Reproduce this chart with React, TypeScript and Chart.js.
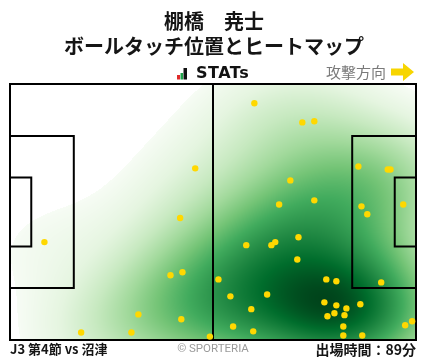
import React, { useEffect, useRef } from 'react';
import { Chart, registerables } from 'chart.js';

Chart.register(...registerables);

// ---- Text ----
const playerName = '棚橋　尭士';
const chartTitle = 'ボールタッチ位置とヒートマップ';
const brandLabel = 'STATs';
const directionLabel = '攻撃方向';
const matchLabel = 'J3 第4節 vs 沼津';
const creditLabel = '© SPORTERIA';
const minutesLabel = '出場時間：89分';

// ---- Ball touch positions (metres; x: 0 = own goal line, y: 0 = top touchline) ----
const touchX = [
  63.2, 75.6, 78.7, 72.5, 69.6, 78.7, 90.1, 97.7, 98.4, 101.7, 90.9, 92.4,
  47.9, 44.0, 8.9, 41.5, 44.6, 33.2, 44.3, 18.4, 31.4, 51.7,
  61.1, 67.6, 68.6, 74.6, 74.3, 53.9, 81.8, 84.4, 96.0, 57.0, 66.5, 62.4,
  81.3, 84.4, 87.0, 90.6, 83.9, 82.1, 86.5, 57.7, 62.9, 86.2, 86.2, 91.1,
  102.2, 104.0,
];
const touchY = [
  5.1, 10.2, 9.9, 25.6, 32.0, 30.9, 21.9, 22.7, 22.7, 32.0, 32.5, 34.6,
  22.4, 35.6, 42.0, 50.8, 50.0, 61.2, 62.5, 66.0, 66.0, 67.1,
  42.8, 42.8, 42.0, 40.7, 46.6, 51.9, 51.9, 52.4, 52.7, 56.4, 55.9, 59.8,
  58.0, 58.8, 59.6, 58.5, 60.9, 61.7, 61.4, 64.4, 65.7, 64.4, 66.8, 66.8,
  64.1, 63.0,
];

// ---- Pitch geometry (metres) ----
const PITCH_LENGTH = 105;
const PITCH_WIDTH = 68;
const BOX_DEPTH = 16.5;
const BOX_WIDTH = 40.32;
const SIX_DEPTH = 5.5;
const SIX_WIDTH = 18.32;

const GREENS: number[][] = [
  [247, 252, 245], [229, 245, 224], [199, 233, 192], [161, 217, 155],
  [116, 196, 118], [65, 171, 93], [35, 139, 69], [0, 109, 44], [0, 68, 27],
];

function greens(t: number): number[] {
  const v = Math.max(0, Math.min(1, t)) * (GREENS.length - 1);
  const i = Math.min(GREENS.length - 2, Math.floor(v));
  const f = v - i;
  const a = GREENS[i];
  const b = GREENS[i + 1];
  return [a[0] + (b[0] - a[0]) * f, a[1] + (b[1] - a[1]) * f, a[2] + (b[2] - a[2]) * f];
}

function makeKde(xs: number[], ys: number[], adjust: number) {
  const n = xs.length;
  const mx = xs.reduce((s, v) => s + v, 0) / n;
  const my = ys.reduce((s, v) => s + v, 0) / n;
  let sxx = 0, syy = 0, sxy = 0;
  for (let i = 0; i < n; i++) {
    const dx = xs[i] - mx;
    const dy = ys[i] - my;
    sxx += dx * dx; syy += dy * dy; sxy += dx * dy;
  }
  sxx /= n - 1; syy /= n - 1; sxy /= n - 1;
  const f = Math.pow(n, -1 / 6) * adjust;
  const a = sxx * f * f, b = sxy * f * f, c = syy * f * f;
  const det = a * c - b * b;
  const i00 = c / det, i01 = -b / det, i11 = a / det;
  const fn = (x: number, y: number) => {
    let s = 0;
    for (let k = 0; k < n; k++) {
      const dx = x - xs[k];
      const dy = y - ys[k];
      s += Math.exp(-0.5 * (dx * dx * i00 + 2 * dx * dy * i01 + dy * dy * i11));
    }
    return s;
  };
  return { fn, bwx: Math.sqrt(a), bwy: Math.sqrt(c) };
}

const heatmapPlugin = {
  id: 'heatmap',
  beforeDatasetsDraw(chart: any) {
    const { ctx, chartArea, scales } = chart;
    const w = Math.round(chartArea.right - chartArea.left);
    const h = Math.round(chartArea.bottom - chartArea.top);
    const { fn: kde, bwx, bwy } = makeKde(touchX, touchY, 1.25);

    // lowest level: iso-proportion threshold on an extended support grid (cut = 3 bandwidths)
    const x0 = Math.min(...touchX) - 3 * bwx, x1 = Math.max(...touchX) + 3 * bwx;
    const y0 = Math.min(...touchY) - 3 * bwy, y1 = Math.max(...touchY) + 3 * bwy;
    const G = 160;
    const grid: number[] = [];
    for (let j = 0; j < G; j++) {
      for (let i = 0; i < G; i++) {
        grid.push(kde(x0 + (x1 - x0) * (i + 0.5) / G, y0 + (y1 - y0) * (j + 0.5) / G));
      }
    }
    grid.sort((p, q) => p - q);
    const total = grid.reduce((s, v) => s + v, 0);
    let acc = 0;
    let thresh = grid[0];
    for (let k = 0; k < grid.length; k++) {
      acc += grid[k];
      if (acc >= total * 0.05) { thresh = grid[k]; break; }
    }
    const dmax = grid[grid.length - 1];

    const off = document.createElement('canvas');
    off.width = w; off.height = h;
    const octx = off.getContext('2d')!;
    const img = octx.createImageData(w, h);
    for (let j = 0; j < h; j++) {
      const y = scales.y.getValueForPixel(chartArea.top + j + 0.5);
      for (let i = 0; i < w; i++) {
        const x = scales.x.getValueForPixel(chartArea.left + i + 0.5);
        const d = kde(x, y);
        const p = j * w + i;
        if (d < thresh) { img.data[p * 4 + 3] = 0; continue; }
        const col = greens(Math.pow((d - thresh) / (dmax - thresh), 0.85));
        img.data[p * 4] = col[0];
        img.data[p * 4 + 1] = col[1];
        img.data[p * 4 + 2] = col[2];
        img.data[p * 4 + 3] = 255;
      }
    }
    octx.putImageData(img, 0, 0);
    ctx.drawImage(off, chartArea.left, chartArea.top);

    // pitch markings
    const X = (v: number) => scales.x.getPixelForValue(v);
    const Y = (v: number) => scales.y.getPixelForValue(v);
    ctx.save();
    ctx.strokeStyle = '#000';
    ctx.lineWidth = 2;
    ctx.strokeRect(X(0), Y(0), X(PITCH_LENGTH) - X(0), Y(PITCH_WIDTH) - Y(0));
    ctx.beginPath();
    ctx.moveTo(X(PITCH_LENGTH / 2), Y(0));
    ctx.lineTo(X(PITCH_LENGTH / 2), Y(PITCH_WIDTH));
    ctx.stroke();
    const box = (depth: number, width: number) => {
      const ya = Y((PITCH_WIDTH - width) / 2);
      const yb = Y((PITCH_WIDTH + width) / 2);
      ctx.beginPath();
      ctx.moveTo(X(0), ya); ctx.lineTo(X(depth), ya); ctx.lineTo(X(depth), yb); ctx.lineTo(X(0), yb);
      ctx.stroke();
      ctx.beginPath();
      ctx.moveTo(X(PITCH_LENGTH), ya); ctx.lineTo(X(PITCH_LENGTH - depth), ya);
      ctx.lineTo(X(PITCH_LENGTH - depth), yb); ctx.lineTo(X(PITCH_LENGTH), yb);
      ctx.stroke();
    };
    box(BOX_DEPTH, BOX_WIDTH);
    box(SIX_DEPTH, SIX_WIDTH);
    ctx.restore();
  },
};

const textPlugin = {
  id: 'texts',
  afterDraw(chart: any) {
    const { ctx } = chart;
    ctx.save();
    const jp = '"Noto Sans CJK JP", "Noto Sans", sans-serif';
    ctx.fillStyle = '#151515';
    ctx.textAlign = 'center';
    ctx.textBaseline = 'middle';
    ctx.font = `bold 20px ${jp}`;
    ctx.fillText(playerName, 214, 21);
    ctx.fillText(chartTitle, 214, 46);

    // brand icon
    ctx.fillStyle = '#e02a2a';
    ctx.fillRect(177, 75, 3, 4.5);
    ctx.fillStyle = '#1fa34a';
    ctx.fillRect(180.5, 73, 2.5, 6.5);
    ctx.fillStyle = '#111';
    ctx.fillRect(183.5, 68, 3.5, 11.5);
    ctx.textAlign = 'left';
    ctx.font = '900 16px "DejaVu Sans", sans-serif';
    (ctx as any).letterSpacing = '0.5px';
    ctx.fillStyle = '#111';
    ctx.fillText(brandLabel, 196, 73.5);
    (ctx as any).letterSpacing = '0px';

    // attack direction
    ctx.font = `15px ${jp}`;
    ctx.fillStyle = '#7a7a7a';
    ctx.fillText(directionLabel, 326, 72);
    ctx.fillStyle = '#f7d500';
    ctx.beginPath();
    ctx.moveTo(391, 68.5); ctx.lineTo(403, 68.5); ctx.lineTo(403, 63);
    ctx.lineTo(414, 72); ctx.lineTo(403, 81); ctx.lineTo(403, 75.5);
    ctx.lineTo(391, 75.5); ctx.closePath();
    ctx.fill();

    // footer
    ctx.fillStyle = '#151515';
    ctx.font = `bold 13px ${jp}`;
    ctx.textAlign = 'left';
    ctx.fillText(matchLabel, 10, 349.5);
    ctx.textAlign = 'right';
    ctx.font = `bold 14px ${jp}`;
    ctx.fillText(minutesLabel, 416, 349.5);
    ctx.textAlign = 'center';
    ctx.fillStyle = '#9a9a9a';
    ctx.font = '11.5px Roboto, "Noto Sans", sans-serif';
    ctx.fillText(creditLabel, 213, 349);
    ctx.restore();
  },
};

export default function App() {
  const ref = useRef<HTMLCanvasElement>(null);
  useEffect(() => {
    if (!ref.current) return;
    const chart = new Chart(ref.current, {
      type: 'scatter',
      data: {
        datasets: [{
          data: touchX.map((x, i) => ({ x, y: touchY[i] })),
          backgroundColor: '#ffd800',
          borderWidth: 0,
          pointRadius: 3.2,
          pointHoverRadius: 3.2,
        }],
      },
      options: {
        animation: false,
        responsive: false,
        devicePixelRatio: 1,
        clip: false as any,
        layout: { padding: { left: 10, right: 12, top: 84, bottom: 19 } },
        scales: {
          x: { type: 'linear', min: 0, max: PITCH_LENGTH, display: false },
          y: { type: 'linear', min: 0, max: PITCH_WIDTH, reverse: true, display: false },
        },
        plugins: { legend: { display: false }, tooltip: { enabled: false } },
      },
      plugins: [heatmapPlugin, textPlugin],
    });
    return () => chart.destroy();
  }, []);
  return (
    <div style={{ position: 'fixed', left: 0, top: 0, width: 428, height: 359, background: '#fff' }}>
      <canvas ref={ref} width={428} height={359} />
    </div>
  );
}
